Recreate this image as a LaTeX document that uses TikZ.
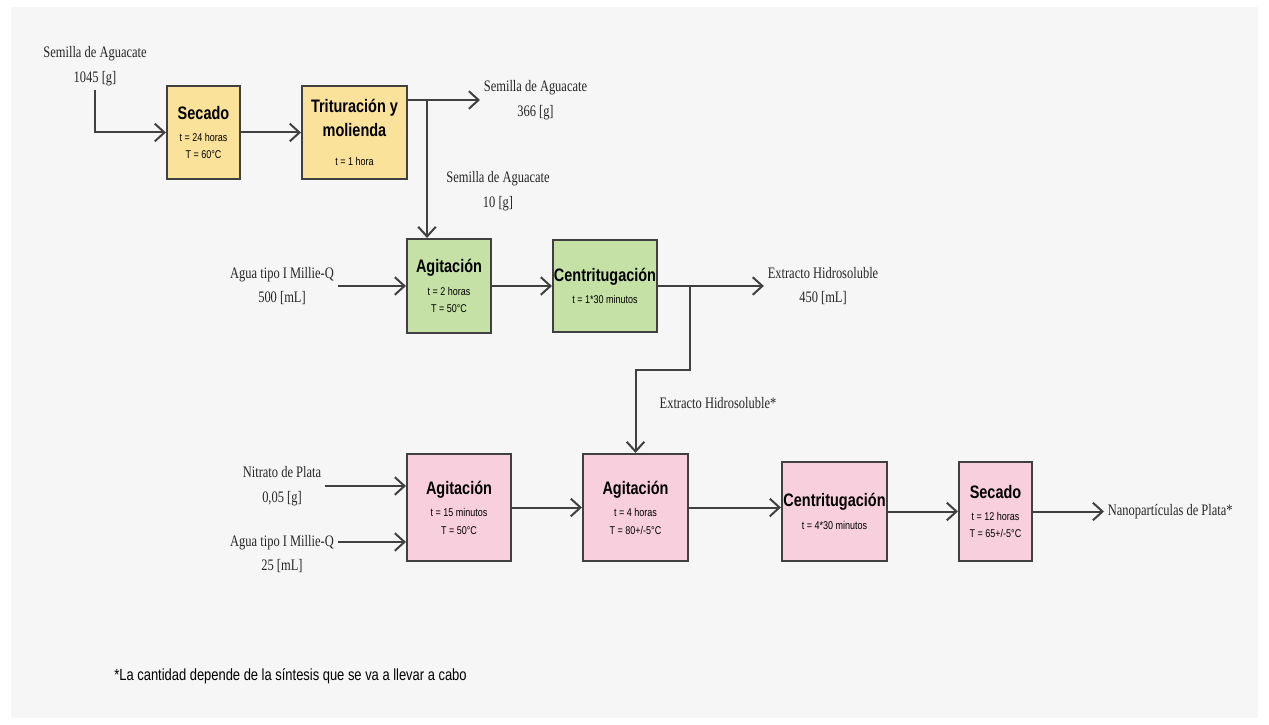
\documentclass[tikz,border=0pt]{standalone}
\usepackage{fontspec}
\setmainfont[FakeStretch=0.8]{Liberation Sans}
\newfontfamily\lblfont[FakeStretch=0.78]{Liberation Serif}
\usetikzlibrary{arrows.meta, positioning}
\definecolor{boxyellow}{RGB}{250,226,155}
\definecolor{boxgreen}{RGB}{197,225,165}
\definecolor{boxpink}{RGB}{248,208,221}
\definecolor{bggray}{RGB}{246,246,246}
\definecolor{linegray}{RGB}{64,64,64}
\newcommand{\ttl}{\fontsize{10.3}{12}\selectfont\bfseries}
\tikzstyle{process} = [rectangle, draw=linegray, line width=0.42mm,
                       align=center, inner sep=0pt, text=black,
                       font=\fontsize{6.4}{9.7}\selectfont]
\tikzstyle{yelbox} = [process, fill=boxyellow]
\tikzstyle{grnbox} = [process, fill=boxgreen]
\tikzstyle{pnkbox} = [process, fill=boxpink]
\tikzstyle{lbl} = [align=center, inner sep=2pt, text=black!85,
                   font=\lblfont\fontsize{9.1}{14.2}\selectfont]
\tikzstyle{arrow} = [line width=0.4mm, draw=linegray,
                     -{Straight Barb[length=5.5pt, width=10pt]}]

\begin{document}
\begin{tikzpicture}

        \useasboundingbox (0,0) rectangle (25.38,-14.5);
        \fill[bggray] (0.22,-0.14) rectangle (25.16,-14.36);

        %Yellow boxes
        \node (sec1) [yelbox, minimum width=1.46cm, minimum height=1.86cm] at (4.07,-2.65)
              {{\ttl Secado}\\[3.3pt]t = 24 horas\\T = 60°C};
        \node (trit) [yelbox, minimum width=2.1cm, minimum height=1.86cm] at (7.09,-2.65)
              {{\ttl Trituración y}\\[4pt]{\ttl molienda}\\[7pt]t = 1 hora};

        %Green boxes
        \node (agi1) [grnbox, minimum width=1.68cm, minimum height=1.88cm] at (8.98,-5.72)
              {{\ttl Agitación}\\[3.3pt]t = 2 horas\\T = 50°C};
        \node (cen1) [grnbox, minimum width=2.08cm, minimum height=1.84cm] at (12.1,-5.72)
              {{\ttl Centritugación}\\[3pt]t = 1*30 minutos};

        %Pink boxes
        \node (agi2) [pnkbox, minimum width=2.08cm, minimum height=2.14cm] at (9.18,-10.15)
              {{\ttl Agitación}\\[3.3pt]t = 15 minutos\\T = 50°C};
        \node (agi3) [pnkbox, minimum width=2.1cm, minimum height=2.14cm] at (12.71,-10.15)
              {{\ttl Agitación}\\[3.3pt]t = 4 horas\\T = 80+/-5°C};
        \node (cen2) [pnkbox, minimum width=2.1cm, minimum height=1.98cm] at (16.69,-10.23)
              {{\ttl Centritugación}\\[3pt]t = 4*30 minutos};
        \node (sec2) [pnkbox, minimum width=1.46cm, minimum height=1.98cm] at (19.91,-10.23)
              {{\ttl Secado}\\[3.3pt]t = 12 horas\\T = 65+/-5°C};

        %Labels
        \node (in1) [lbl] at (1.9,-1.32) {Semilla de Aguacate\\1045 [g]};
        \node (out1) [lbl, anchor=west] at (9.6,-2.0) {Semilla de Aguacate\\366 [g]};
        \node (lbl10) [lbl] at (9.96,-3.82) {Semilla de Aguacate\\10 [g]};
        \node (in2) [lbl] at (5.64,-5.72) {Agua tipo I Millie-Q\\500 [mL]};
        \node (out2) [lbl] at (16.46,-5.72) {Extracto Hidrosoluble\\450 [mL]};
        \node (lblext) [lbl] at (14.36,-8.06) {Extracto Hidrosoluble*};
        \node (in3) [lbl] at (5.64,-9.72) {Nitrato de Plata\\0,05 [g]};
        \node (in4) [lbl] at (5.64,-11.08) {Agua tipo I Millie-Q\\25 [mL]};
        \node (out3) [lbl, anchor=west] at (22.08,-10.23) {Nanopartículas de Plata*};

        %Branch points
        \coordinate (br1) at (8.54,-2.0);
        \coordinate (br2) at (13.8,-5.72);

        %Top line
        \draw [arrow] (in1.south) |- (sec1.west);
        \draw [arrow] (sec1) -- (trit);
        \draw [arrow] (trit.east |- out1.west) -- (out1.west);
        \draw [arrow] (br1) -- (br1 |- agi1.north);

        %Middle line
        \draw [arrow] (in2) -- (agi1);
        \draw [arrow] (agi1) -- (cen1);
        \draw [arrow] (cen1) -- (out2);
        \draw [arrow] (br2) -- ++(0,-1.68) -| (agi3.north);

        %Bottom line
        \draw [arrow] (in3) -- (in3 -| agi2.west);
        \draw [arrow] ([yshift=0.24cm]in4.east) -- ([yshift=0.24cm]in4.east -| agi2.west);
        \draw [arrow] (agi2) -- (agi3);
        \draw [arrow] (agi3) -- (agi3 -| cen2.west);
        \draw [arrow] (cen2) -- (sec2);
        \draw [arrow] (sec2) -- (out3);

        %Footnote
        \node (foot) [anchor=west, inner sep=0pt, font=\fontsize{9.2}{11}\selectfont]
              at (2.28,-13.52) {*La cantidad depende de la síntesis que se va a llevar a cabo};

\end{tikzpicture}
\end{document}
